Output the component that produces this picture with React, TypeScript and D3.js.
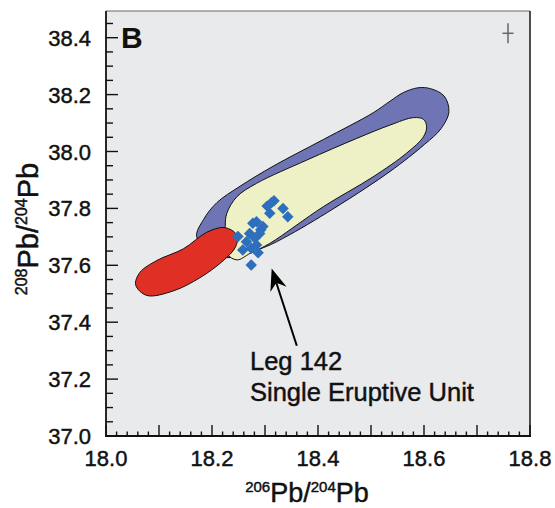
import React from "react";
import * as d3 from "d3";

// axis tick labels
const xTickLabels = ["18.0", "18.2", "18.4", "18.6", "18.8"];
const yTickLabels = ["37.0", "37.2", "37.4", "37.6", "37.8", "38.0", "38.2", "38.4"];

// field outlines [206Pb/204Pb, 208Pb/204Pb]
const purpleField: [number, number][] = [
  [18.647, 38.14], [18.638, 38.195], [18.612, 38.221], [18.589, 38.224], [18.561, 38.207],
  [18.536, 38.177], [18.504, 38.136], [18.41, 38.042], [18.316, 37.949], [18.253, 37.878],
  [18.209, 37.82], [18.184, 37.761], [18.171, 37.701], [18.196, 37.652], [18.228, 37.627],
  [18.297, 37.662], [18.347, 37.708], [18.442, 37.814], [18.536, 37.93], [18.601, 38.025],
  [18.632, 38.08],
];
const yellowField: [number, number][] = [
  [18.605, 38.087], [18.599, 38.113], [18.58, 38.119], [18.536, 38.093], [18.473, 38.046],
  [18.379, 37.97], [18.284, 37.888], [18.247, 37.841], [18.228, 37.783], [18.225, 37.736],
  [18.228, 37.642], [18.247, 37.619], [18.272, 37.642], [18.309, 37.677], [18.41, 37.806],
  [18.504, 37.911], [18.567, 37.994], [18.599, 38.052],
];
const redField: [number, number][] = [
  [18.24, 37.72], [18.221, 37.733], [18.19, 37.716], [18.146, 37.658], [18.096, 37.617],
  [18.064, 37.575], [18.056, 37.531], [18.077, 37.494], [18.127, 37.51], [18.177, 37.556],
  [18.221, 37.616], [18.244, 37.663], [18.248, 37.701],
];

// Leg 142 samples
const sampleX = [18.312, 18.304, 18.334, 18.309, 18.343, 18.284, 18.277, 18.296, 18.29, 18.271,
  18.249, 18.265, 18.284, 18.258, 18.274, 18.287, 18.274, 18.281, 18.317, 18.292];
const sampleY = [37.82, 37.808, 37.8, 37.783, 37.771, 37.753, 37.748, 37.736, 37.712, 37.712,
  37.701, 37.683, 37.671, 37.654, 37.66, 37.644, 37.601, 37.695, 37.827, 37.725];

// error cross (2 sigma)
const errCenter: [number, number] = [18.7585, 38.4155];
const errHalf: [number, number] = [0.0105, 0.035];

// annotation
const arrowTip: [number, number] = [18.3126, 37.589];
const arrowTail: [number, number] = [18.36, 37.317];
const annotLines = ["Leg 142", "Single Eruptive Unit"];

const W = 555, H = 508;
const L = 106, R = 530, B = 436, T = 11;

const x = d3.scaleLinear().domain([18.0, 18.8]).range([L, R]);
const y = d3.scaleLinear().domain([37.0, 38.4]).range([B, B - 1.4 * 284.5]);

const font = "'Liberation Sans', Arial, sans-serif";
const txt = { fontFamily: font, fill: "#111", stroke: "#111", strokeWidth: 0.45 };

export default function App() {
  const line = d3.line<[number, number]>()
    .x((d) => x(d[0]))
    .y((d) => y(d[1]))
    .curve(d3.curveCatmullRomClosed.alpha(0.5));

  const xMinor = d3.range(0, 41).map((i) => 18 + i * 0.02);
  const yMinor = d3.range(0, 30).map((i) => 37 + i * 0.05);

  const diamond = d3.symbol().type(d3.symbolSquare).size(66)();

  // arrow geometry
  const tx = x(arrowTip[0]), ty = y(arrowTip[1]);
  const sx = x(arrowTail[0]), sy = y(arrowTail[1]);
  const len = Math.hypot(tx - sx, ty - sy);
  const ux = (tx - sx) / len, uy = (ty - sy) / len;
  const px = -uy, py = ux;
  const hl = 22, hw = 8.5, notch = 15;
  const head = `M${tx},${ty} L${tx - ux * hl + px * hw},${ty - uy * hl + py * hw} L${tx - ux * notch},${ty - uy * notch} L${tx - ux * hl - px * hw},${ty - uy * hl - py * hw} Z`;

  return (
    <svg width={W} height={H} style={{ position: "absolute", left: 0, top: 0, display: "block", background: "#fff" }}>
      <rect x={L} y={T} width={R - L} height={B - T} fill="#e9eaec" />
      {/* frame top/right */}
      <line x1={L} y1={T} x2={R} y2={T} stroke="#666" strokeWidth={1} />
      <line x1={R} y1={T} x2={R} y2={B} stroke="#222" strokeWidth={1.6} />

      <path d={line(purpleField)!} fill="#6f74b4" stroke="#111" strokeWidth={1} />
      <path d={line(yellowField)!} fill="#eef0c6" stroke="#111" strokeWidth={1} />
      <path d={line(redField)!} fill="#e03026" stroke="#111" strokeWidth={1} />

      {sampleX.map((sx2, i) => (
        <path key={i} d={diamond} fill="#2e6fbd" transform={`translate(${x(sx2)},${y(sampleY[i])}) rotate(45)`} />
      ))}

      {/* error cross */}
      <g stroke="#666" strokeWidth={1.5}>
        <line x1={x(errCenter[0] - errHalf[0])} x2={x(errCenter[0] + errHalf[0])} y1={y(errCenter[1])} y2={y(errCenter[1])} />
        <line x1={x(errCenter[0])} x2={x(errCenter[0])} y1={y(errCenter[1] - errHalf[1])} y2={y(errCenter[1] + errHalf[1])} />
      </g>

      {/* arrow */}
      <line x1={sx} y1={sy} x2={tx - ux * 14} y2={ty - uy * 14} stroke="#000" strokeWidth={2} />
      <path d={head} fill="#000" />
      {annotLines.map((t, i) => (
        <text key={t} x={250} y={370 + i * 31} fontSize={25.5} {...txt}>{t}</text>
      ))}

      {/* axes */}
      {xMinor.map((v, i) => {
        const major = i % 5 === 0;
        return <line key={"xt" + i} x1={x(v)} x2={x(v)} y1={B} y2={B - (major ? 11 : 4.5)} stroke="#111" strokeWidth={1.4} />;
      })}
      {yMinor.map((v, i) => {
        const major = i % 4 === 0;
        return <line key={"yt" + i} x1={L} x2={L + (major ? 12 : 7)} y1={y(v)} y2={y(v)} stroke="#111" strokeWidth={1.4} />;
      })}
      <line x1={L} y1={T} x2={L} y2={B + 1} stroke="#111" strokeWidth={1.8} />
      <line x1={L - 1} y1={B} x2={R + 1} y2={B} stroke="#111" strokeWidth={1.8} />

      {xTickLabels.map((t) => (
        <text key={t} x={x(+t)} y={466} textAnchor="middle" fontSize={22} {...txt}>{t}</text>
      ))}
      {yTickLabels.map((t) => (
        <text key={t} x={91} y={y(+t) + 8} textAnchor="end" fontSize={22} {...txt}>{t}</text>
      ))}

      <text x={121} y={48} fontWeight="bold" fontSize={30} fontFamily={font} fill="#111">B</text>

      <text x={307} y={502} textAnchor="middle" fontSize={27} {...txt}>
        <tspan fontSize={15} dy={-10}>206</tspan>
        <tspan dy={10}>Pb/</tspan>
        <tspan fontSize={15} dy={-10}>204</tspan>
        <tspan dy={10}>Pb</tspan>
      </text>
      <text transform="translate(38,229) rotate(-90)" textAnchor="middle" fontSize={29} {...txt}>
        <tspan fontSize={16} dy={-11}>208</tspan>
        <tspan dy={11}>Pb/</tspan>
        <tspan fontSize={16} dy={-11}>204</tspan>
        <tspan dy={11}>Pb</tspan>
      </text>
    </svg>
  );
}
